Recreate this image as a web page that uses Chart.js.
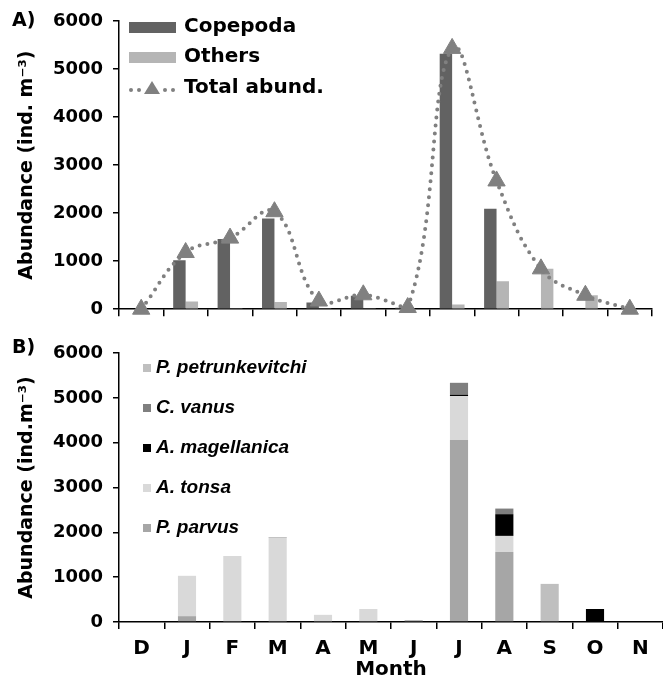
<!DOCTYPE html>
<html><head><meta charset="utf-8">
<script src="https://cdn.jsdelivr.net/npm/chart.js@4.4.1/dist/chart.umd.min.js"></script>
<style>
html,body{margin:0;padding:0;background:#fff;}
#wrap{width:663px;height:685px;position:relative;}
canvas{display:block;}
</style></head><body>
<div id="wrap">
<canvas id="c1" width="663" height="330"></canvas>
<canvas id="c2" width="663" height="355"></canvas>
</div>
<script>
// ---- data ----
const months = ['D','J','F','M','A','M','J','J','A','S','O','N'];
const copepoda   = [0,1020,1460,1890,140,280,30,5320,2090,0,0,0];
const others     = [0,160,20,150,20,20,0,100,580,840,290,0];
const totalAbund = [0,1180,1480,2030,170,300,35,5430,2670,840,290,0];

const pParvus         = [0,130,0,0,0,0,40,4060,1560,0,0,0];
const aTonsa          = [0,900,1470,1880,160,290,0,980,360,0,0,0];
const aMagellanica    = [0,0,0,0,0,0,0,30,485,0,290,0];
const cVanus          = [0,0,0,12,0,0,0,265,125,0,0,0];
const pPetrunkevitchi = [0,0,0,0,0,0,0,0,0,850,0,0];

const yTicks = [0,1000,2000,3000,4000,5000,6000];

const FONT = "'DejaVu Sans', Verdana, sans-serif";
const FONT2 = "'Liberation Sans', Arial, sans-serif";
Chart.defaults.font.family = FONT;
Chart.defaults.font.weight = 'bold';
Chart.defaults.color = '#000';

function setTicks(s){ s.ticks = yTicks.map(v => ({value: v})); }

// ---- top legend plugin ----
const legTop = {
  id: 'legTop',
  afterDraw(chart){
    const ctx = chart.ctx; const ds = chart.data.datasets;
    ctx.save();
    ctx.fillStyle = '#000';
    ctx.textBaseline = 'middle';
    ctx.font = "bold 19px " + FONT;
    ctx.fillText('A)', 12, 21);
    ctx.font = "bold 20px " + FONT;
    const x0 = 129, x1 = 176, tx = 184;
    const rows = [27, 57, 88];
    // Copepoda
    ctx.fillStyle = ds[1].backgroundColor; ctx.fillRect(x0, rows[0]-5, x1-x0, 11);
    ctx.fillStyle = '#000'; ctx.fillText(ds[1].label, tx, rows[0]);
    // Others
    ctx.fillStyle = ds[2].backgroundColor; ctx.fillRect(x0, rows[1]-5, x1-x0, 11);
    ctx.fillStyle = '#000'; ctx.fillText(ds[2].label, tx, rows[1]);
    // Total abund.
    ctx.fillStyle = ds[0].borderColor;
    [131, 139, 165, 173].forEach(x => { ctx.beginPath(); ctx.arc(x, rows[2]+2, 2, 0, Math.PI*2); ctx.fill(); });
    ctx.beginPath(); ctx.moveTo(152, rows[2]-7); ctx.lineTo(160, rows[2]+6); ctx.lineTo(144, rows[2]+6); ctx.closePath(); ctx.fill();
    ctx.fillStyle = '#000'; ctx.fillText(ds[0].label, tx, rows[2]);
    ctx.restore();
  }
};

// ---- bottom legend plugin ----
const legBot = {
  id: 'legBot',
  afterDraw(chart){
    const ctx = chart.ctx; const ds = chart.data.datasets;
    ctx.save();
    ctx.fillStyle = '#000';
    ctx.textBaseline = 'middle';
    ctx.font = "bold 19px " + FONT;
    ctx.fillText('B)', 12, 18);
    ctx.font = "italic bold 19px " + FONT2;
    const order = [4, 3, 2, 1, 0];
    order.forEach((idx, i) => {
      const y = 38 + i * 40;
      ctx.fillStyle = ds[idx].backgroundColor;
      ctx.fillRect(143, y - 4, 8, 8);
      ctx.fillStyle = '#000';
      ctx.fillText(ds[idx].label, 156, y);
    });
    ctx.restore();
  }
};

const commonY = (titleText) => ({
  min: 0, max: 6000,
  afterBuildTicks: setTicks,
  ticks: { font: {size: 18, weight: 'bold'}, padding: 10, color: '#000', callback: v => String(v) },
  grid: { drawOnChartArea: false, drawTicks: true, tickLength: 6, color: '#000', lineWidth: 1.5 },
  border: { color: '#000', width: 1.5 },
  title: { display: true, text: titleText, font: {size: 19, weight: 'bold'}, color: '#000', padding: {top: 16, bottom: 0} },
  afterFit(s){ s.width = 119; }
});

new Chart(document.getElementById('c1'), {
  type: 'bar',
  data: {
    labels: months,
    datasets: [
      { type: 'line', label: 'Total abund.', data: totalAbund, borderColor: '#808080', backgroundColor: '#808080',
        borderWidth: 4, borderDash: [0, 8], borderCapStyle: 'round', tension: 0.4, fill: false,
        pointStyle: 'triangle', pointRadius: 10, pointBackgroundColor: '#808080', pointBorderColor: '#808080',
        pointBorderWidth: 1, order: 0, clip: false },
      { label: 'Copepoda', data: copepoda, backgroundColor: '#626262', order: 1 },
      { label: 'Others', data: others, backgroundColor: '#b5b5b5', order: 1 }
    ]
  },
  options: {
    responsive: false, animation: false, events: [],
    layout: { padding: { top: 21, right: 0, left: 0, bottom: 0 } },
    datasets: { bar: { categoryPercentage: 0.56, barPercentage: 1 } },
    plugins: { legend: { display: false }, tooltip: { enabled: false } },
    scales: {
      x: {
        grid: { offset: true, drawOnChartArea: false, drawTicks: true, tickLength: 7, color: '#000', lineWidth: 1.5 },
        border: { color: '#000', width: 1.5 },
        ticks: { display: false },
        afterFit(s){ s.height = 19; }
      },
      y: commonY('Abundance (ind. m\u207B\u00B3)')
    }
  },
  plugins: [legTop]
});

new Chart(document.getElementById('c2'), {
  type: 'bar',
  data: {
    labels: months,
    datasets: [
      { label: 'P. parvus', data: pParvus, backgroundColor: '#a6a6a6' },
      { label: 'A. tonsa', data: aTonsa, backgroundColor: '#d9d9d9' },
      { label: 'A. magellanica', data: aMagellanica, backgroundColor: '#000000' },
      { label: 'C. vanus', data: cVanus, backgroundColor: '#7f7f7f' },
      { label: 'P. petrunkevitchi', data: pPetrunkevitchi, backgroundColor: '#bfbfbf' }
    ]
  },
  options: {
    responsive: false, animation: false, events: [],
    layout: { padding: { top: 23, right: 0, left: 0, bottom: 0 } },
    datasets: { bar: { categoryPercentage: 0.4, barPercentage: 1 } },
    plugins: { legend: { display: false }, tooltip: { enabled: false } },
    scales: {
      x: {
        stacked: true,
        grid: { offset: true, drawOnChartArea: false, drawTicks: true, tickLength: 7, color: '#000', lineWidth: 1.5 },
        border: { color: '#000', width: 1.5 },
        ticks: { font: {size: 20, weight: 'bold'}, padding: 8, color: '#000', maxRotation: 0, autoSkip: false },
        title: { display: true, text: 'Month', font: {size: 20, weight: 'bold'}, color: '#000', padding: {top: 0, bottom: 3} },
        afterFit(s){ s.height = 63; }
      },
      y: Object.assign(commonY('Abundance (ind.m\u207B\u00B3)'), { stacked: true })
    }
  },
  plugins: [legBot]
});
</script>
</body></html>
